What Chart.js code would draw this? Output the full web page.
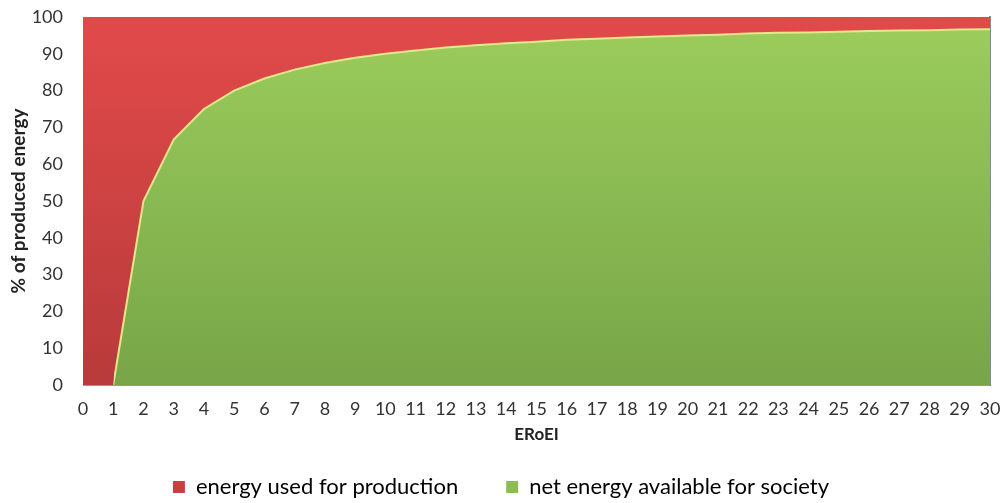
<!DOCTYPE html>
<html>
<head>
<meta charset="utf-8">
<script src="https://cdn.jsdelivr.net/npm/chart.js@4"></script>
<style>
html,body{margin:0;padding:0;background:#fff;}
#wrap{width:1002px;height:503px;}
</style>
</head>
<body>
<div id="wrap"><canvas id="c" width="1002" height="503"></canvas></div>
<script>
const eroei = ['0','1','2','3','4','5','6','7','8','9','10','11','12','13','14','15','16','17','18','19','20','21','22','23','24','25','26','27','28','29','30'];
const netEnergy = [0,0,50,66.7,75,80,83.3,85.7,87.5,88.9,90,90.9,91.7,92.3,92.9,93.3,93.8,94.1,94.4,94.7,95,95.2,95.5,95.7,95.8,96,96.2,96.3,96.4,96.6,96.7];
const usedEnergy = [100,100,50,33.3,25,20,16.7,14.3,12.5,11.1,10,9.1,8.3,7.7,7.1,6.7,6.2,5.9,5.6,5.3,5,4.8,4.5,4.3,4.2,4,3.8,3.7,3.6,3.4,3.3];
const yTicks = [0,10,20,30,40,50,60,70,80,90,100];

function grad(ctx, top, bottom){
  const chart = ctx.chart;
  const a = chart.chartArea;
  if(!a) return bottom;
  const g = chart.ctx.createLinearGradient(0, a.top, 0, a.bottom);
  g.addColorStop(0, top);
  g.addColorStop(1, bottom);
  return g;
}

// edge line visible only where the net-energy share is above zero
function edgeColor(ctx){
  const chart = ctx.chart;
  const a = chart.chartArea;
  const col = '#e4e88a';
  if(!a || !chart.scales.x) return col;
  const firstIdx = netEnergy.findIndex((v, i) => v > 0) - 1;
  const px = chart.scales.x.getPixelForValue(Math.max(firstIdx, 0));
  const g = chart.ctx.createLinearGradient(a.left, 0, a.right, 0);
  const t = Math.min(Math.max((px - a.left) / (a.right - a.left), 0), 1);
  g.addColorStop(0, 'rgba(228,232,138,0)');
  g.addColorStop(t, 'rgba(228,232,138,0)');
  g.addColorStop(Math.min(t + 0.001, 1), col);
  g.addColorStop(1, col);
  return g;
}

const legendCols = ['#8cbd55', '#c94040'];

new Chart(document.getElementById('c'), {
  type: 'line',
  data: {
    labels: eroei,
    datasets: [
      {
        label: 'net energy available for society',
        data: netEnergy,
        fill: 'origin',
        backgroundColor: ctx => grad(ctx, '#9ccd5c', '#77a548'),
        borderColor: edgeColor,
        borderWidth: 2,
        pointRadius: 0,
        tension: 0
      },
      {
        label: 'energy used for production',
        data: usedEnergy,
        fill: '-1',
        backgroundColor: ctx => grad(ctx, '#e24a4a', '#b83a3a'),
        borderColor: 'rgba(0,0,0,0)',
        borderWidth: 0,
        pointRadius: 0,
        tension: 0
      }
    ]
  },
  options: {
    responsive: false,
    animation: false,
    layout: { padding: { left: 0, right: 0, top: 0, bottom: -5 } },
    plugins: {
      legend: {
        position: 'bottom',
        reverse: true,
        labels: {
          boxWidth: 12, boxHeight: 12,
          color: '#222',
          padding: 48,
          font: { family: 'Lato', size: 22 },
          generateLabels: chart => chart.data.datasets.map((d,i)=>({
            text: d.label,
            fillStyle: legendCols[i],
            strokeStyle: legendCols[i],
            lineWidth: 0,
            datasetIndex: i,
            hidden: false
          }))
        }
      },
      tooltip: { enabled: false }
    },
    scales: {
      x: {
        offset: false,
        grid: { display: false, drawTicks: false },
        border: { color: '#999', width: 1 },
        ticks: { color: '#333', font: { family: 'Lato', size: 18 }, padding: 13, maxRotation: 0, autoSkip: false },
        title: { display: true, text: 'ERoEI', color: '#222', font: { family: 'Lato', size: 17, weight: 'bold' }, padding: { top: 0, bottom: -17 } },
        afterFit: axis => { axis.height = 43; axis.paddingRight = 12; axis.paddingLeft = 0; }
      },
      xTop: {
        type: 'category',
        position: 'top',
        grid: { display: false, drawTicks: false },
        border: { color: '#aaa', width: 1 },
        ticks: { display: false },
        afterFit: axis => { axis.height = 0; }
      },
      y: {
        stacked: true,
        min: 0, max: 100,
        afterBuildTicks: axis => { axis.ticks = yTicks.map(v => ({ value: v })); },
        grid: { display: false, drawTicks: false },
        border: { display: false },
        ticks: { color: '#333', font: { family: 'Lato', size: 18 }, padding: 20 },
        title: { display: true, text: '% of produced energy', color: '#222', font: { family: 'Lato', size: 19, weight: 'bold' }, padding: { top: 7, bottom: 0 } },
        afterFit: axis => { axis.width = 83; axis.paddingTop = 17; axis.paddingBottom = 10; }
      },
      yRight: {
        position: 'right',
        min: 0, max: 100,
        grid: { display: false, drawTicks: false },
        border: { color: '#888', width: 2 },
        ticks: { display: false },
        afterFit: axis => { axis.width = 0; axis.paddingTop = 0; axis.paddingBottom = 0; }
      }
    }
  }
});
</script>
</body>
</html>
